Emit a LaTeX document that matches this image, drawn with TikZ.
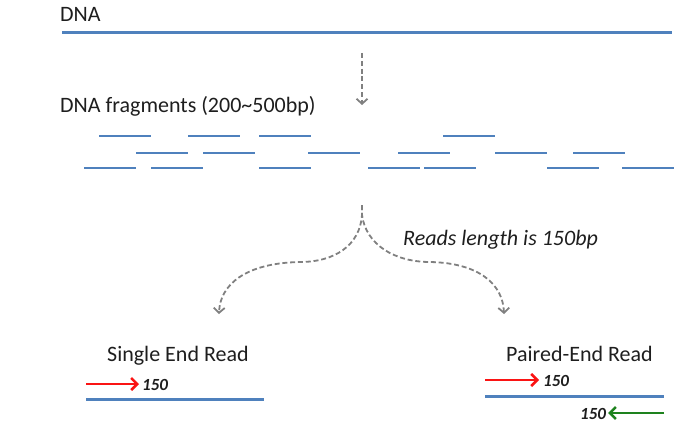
\documentclass[tikz,border=0pt]{standalone}
\usepackage{fontspec}
\setmainfont{Carlito}
\usetikzlibrary{arrows.meta, positioning}

\definecolor{strand}{RGB}{79,129,189}
\definecolor{guide}{RGB}{128,128,128}
\definecolor{fwdread}{RGB}{250,20,20}
\definecolor{revread}{RGB}{30,130,30}
\definecolor{ink}{RGB}{30,30,30}

\begin{document}
\begin{tikzpicture}[
    x=1pt, y=-1pt,
    title/.style = {anchor=base west, inner sep=0pt, text=ink, font=\fontsize{22}{26}\selectfont},
    readlen/.style = {anchor=base west, inner sep=0pt, text=ink, font=\fontsize{17}{20}\selectfont\bfseries\itshape},
    strandline/.style = {draw=strand, line width=3pt},
    fragline/.style = {draw=strand, line width=2.8pt},
    flow/.style = {draw=guide, line width=1.8pt, dash pattern=on 5pt off 2.8pt, -{Straight Barb[length=5pt, width=11pt]}},
    fwdarrow/.style = {draw=fwdread, line width=2.5pt, -{Straight Barb[length=6pt, width=12pt]}},
    revarrow/.style = {draw=revread, line width=2.5pt, -{Straight Barb[length=6pt, width=12pt]}},
    >=Stealth]

    \useasboundingbox (0,0) rectangle (688,436);

    % whole molecule
    \node[title] (dna) at (60,22) {DNA};
    \coordinate (dnaL) at (62,33);
    \coordinate (dnaR) at (672,33);
    \draw[strandline] (dnaL) -- (dnaR);

    \coordinate (shear) at (362,53);
    \coordinate (shearEnd) at (362,105);
    \draw[flow] (shear) -- (shearEnd);

    % fragments
    \node[title] (frags) at (60,112) {DNA fragments (200\textasciitilde500bp)};
    \foreach \x in {99,188,259,443}
        \draw[fragline] (\x,136) -- ++(52,0);
    \foreach \x in {136,203,308,398,495,573}
        \draw[fragline] (\x,153) -- ++(52,0);
    \foreach \x in {84,151,259,368,424,547,622}
        \draw[fragline] (\x,168) -- ++(52,0);

    % sequencing
    \coordinate (split) at (362,205);
    \coordinate (singleTip) at (219,314);
    \coordinate (pairedTip) at (504,314);
    \node[title, font=\fontsize{22}{26}\selectfont\itshape] (reads) at (403,245) {Reads length is 150bp};

    \draw[flow] (split) -- ++(0,10) .. controls (360,245) and (335,262) .. (300,262)
        .. controls (245,263) and (220,285) .. (singleTip);
    \draw[flow] (split) -- ++(0,10) .. controls (366,245) and (395,262) .. (430,262)
        .. controls (480,263) and (503,285) .. (pairedTip);

    % single end
    \node[title] (single) at (107,361) {Single End Read};
    \node[readlen] (singleLen) at (142,390) {150};
    \coordinate (sFwd) at (86,384);
    \coordinate (sFwdEnd) at (139,384);
    \draw[fwdarrow] (sFwd) -- (sFwdEnd);
    \coordinate (sL) at (86,399);
    \coordinate (sR) at (264,399);
    \draw[strandline] (sL) -- (sR);

    % paired end
    \node[title] (paired) at (506,361) {Paired-End Read};
    \node[readlen] (pairedFwdLen) at (543,386) {150};
    \node[readlen] (pairedRevLen) at (580,419) {150};
    \coordinate (pFwd) at (485,380);
    \coordinate (pFwdEnd) at (539,380);
    \draw[fwdarrow] (pFwd) -- (pFwdEnd);
    \coordinate (pL) at (485,396);
    \coordinate (pR) at (664,396);
    \draw[strandline] (pL) -- (pR);
    \coordinate (pRev) at (664,413);
    \coordinate (pRevEnd) at (608,413);
    \draw[revarrow] (pRev) -- (pRevEnd);
\end{tikzpicture}
\end{document}
